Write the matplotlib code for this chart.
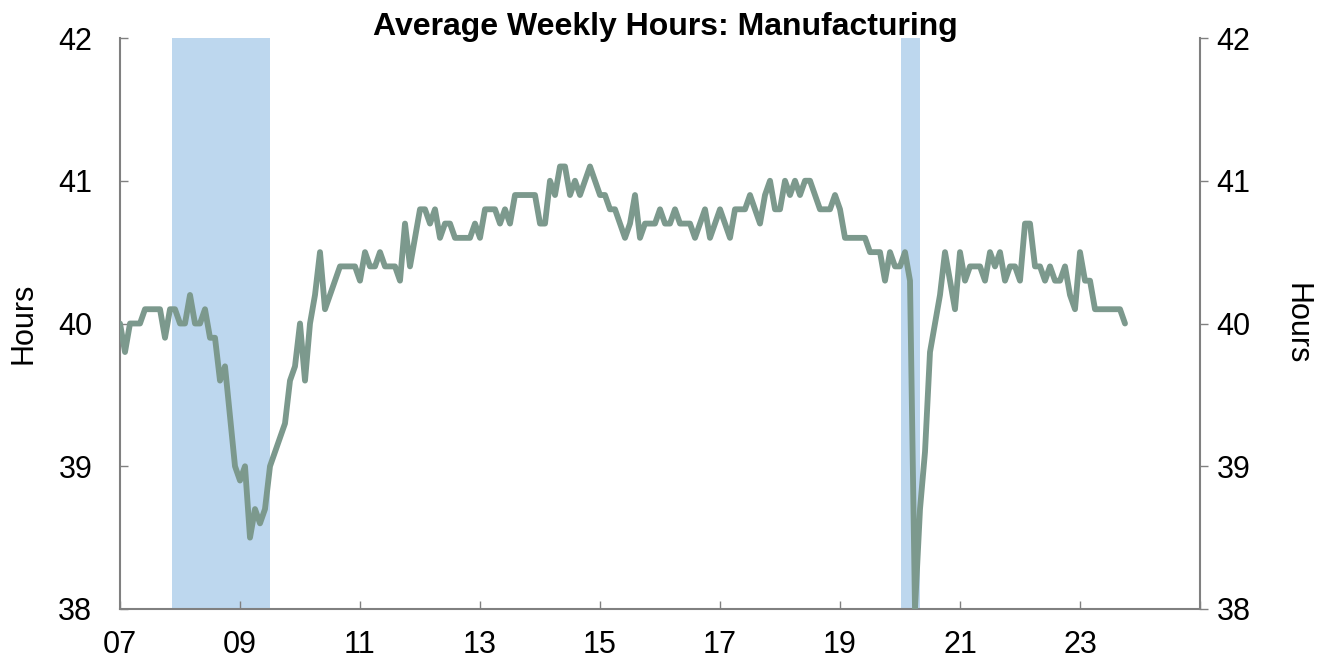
import matplotlib
matplotlib.use("Agg")
import matplotlib.pyplot as plt
import numpy as np

plt.rcParams['font.family'] = ['Liberation Sans', 'DejaVu Sans']

# Monthly data, Jan 2007 .. Oct 2023
start_year = 2007
hours = [
    40.0, 39.8, 40.0, 40.0, 40.0, 40.1, 40.1, 40.1, 40.1, 39.9, 40.1, 40.1,   # 2007
    40.0, 40.0, 40.2, 40.0, 40.0, 40.1, 39.9, 39.9, 39.6, 39.7, 39.35, 39.0,  # 2008
    38.9, 39.0, 38.5, 38.7, 38.6, 38.7, 39.0, 39.1, 39.2, 39.3, 39.6, 39.7,   # 2009
    40.0, 39.6, 40.0, 40.2, 40.5, 40.1, 40.2, 40.3, 40.4, 40.4, 40.4, 40.4,   # 2010
    40.3, 40.5, 40.4, 40.4, 40.5, 40.4, 40.4, 40.4, 40.3, 40.7, 40.4, 40.6,   # 2011
    40.8, 40.8, 40.7, 40.8, 40.6, 40.7, 40.7, 40.6, 40.6, 40.6, 40.6, 40.7,   # 2012
    40.6, 40.8, 40.8, 40.8, 40.7, 40.8, 40.7, 40.9, 40.9, 40.9, 40.9, 40.9,   # 2013
    40.7, 40.7, 41.0, 40.9, 41.1, 41.1, 40.9, 41.0, 40.9, 41.0, 41.1, 41.0,   # 2014
    40.9, 40.9, 40.8, 40.8, 40.7, 40.6, 40.7, 40.9, 40.6, 40.7, 40.7, 40.7,   # 2015
    40.8, 40.7, 40.7, 40.8, 40.7, 40.7, 40.7, 40.6, 40.7, 40.8, 40.6, 40.7,   # 2016
    40.8, 40.7, 40.6, 40.8, 40.8, 40.8, 40.9, 40.8, 40.7, 40.9, 41.0, 40.8,   # 2017
    40.8, 41.0, 40.9, 41.0, 40.9, 41.0, 41.0, 40.9, 40.8, 40.8, 40.8, 40.9,   # 2018
    40.8, 40.6, 40.6, 40.6, 40.6, 40.6, 40.5, 40.5, 40.5, 40.3, 40.5, 40.4,   # 2019
    40.4, 40.5, 40.3, 38.0, 38.7, 39.1, 39.8, 40.0, 40.2, 40.5, 40.3, 40.1,   # 2020
    40.5, 40.3, 40.4, 40.4, 40.4, 40.3, 40.5, 40.4, 40.5, 40.3, 40.4, 40.4,   # 2021
    40.3, 40.7, 40.7, 40.4, 40.4, 40.3, 40.4, 40.3, 40.3, 40.4, 40.2, 40.1,   # 2022
    40.5, 40.3, 40.3, 40.1, 40.1, 40.1, 40.1, 40.1, 40.1, 40.0,               # 2023
]

# Recession periods (first month, last month), as (year, month)
rec_start = [(2007, 12), (2020, 2)]
rec_end = [(2009, 6), (2020, 4)]

tick_years = [2007, 2009, 2011, 2013, 2015, 2017, 2019, 2021, 2023]
tick_labels = ['07', '09', '11', '13', '15', '17', '19', '21', '23']
y_ticks = [38, 39, 40, 41, 42]

line_color = '#7C998D'
band_color = '#BDD7EE'
spine_color = '#808080'

W, H = 1324, 658
fig = plt.figure(figsize=(W / 100, H / 100), dpi=100)
ax = fig.add_axes([120 / W, 1 - 609 / H, (1200 - 120) / W, (609 - 38) / H])

x = start_year + np.arange(len(hours)) / 12.0
for (sy, sm), (ey, em) in zip(rec_start, rec_end):
    x0 = sy + (sm - 1) / 12.0 - 0.7 / 12.0
    x1 = ey + (em - 1) / 12.0 + 1.0 / 12.0
    ax.axvspan(x0, x1, color=band_color, lw=0, zorder=1)

ax.plot(x, hours, color=line_color, lw=4.2, solid_capstyle='round',
        solid_joinstyle='round', zorder=3)

ax.set_xlim(2007, 2025)
ax.set_ylim(38, 42)
ax.set_xticks(tick_years + [2025])
ax.set_xticklabels(tick_labels + [''])
ax.set_yticks(y_ticks)
ax.set_yticklabels([str(v) for v in y_ticks])

for s in ['left', 'right', 'bottom']:
    ax.spines[s].set_color(spine_color)
    ax.spines[s].set_linewidth(1.5)
ax.spines['top'].set_visible(False)

ax.tick_params(axis='x', direction='in', length=6, width=1, color=spine_color,
               labelsize=22, pad=15)
ax.tick_params(axis='y', direction='in', length=6, width=1, color=spine_color,
               labelsize=22, pad=20)

ax2 = ax.twinx()
ax2.set_ylim(38, 42)
ax2.set_yticks(y_ticks)
ax2.set_yticklabels([str(v) for v in y_ticks])
for s in ['left', 'right', 'bottom', 'top']:
    ax2.spines[s].set_visible(False)
ax2.tick_params(axis='y', direction='out', length=6, width=1, color=spine_color,
                labelsize=22, pad=6)

ax.set_ylabel('Hours', fontsize=22, labelpad=14)
ax2.set_ylabel('Hours', fontsize=22, rotation=270, labelpad=44)

fig.text(665 / W, 1 - 27 / H, 'Average Weekly Hours: Manufacturing',
         ha='center', va='center', fontsize=23, fontweight='bold')

fig.savefig('out.png', dpi=100)
